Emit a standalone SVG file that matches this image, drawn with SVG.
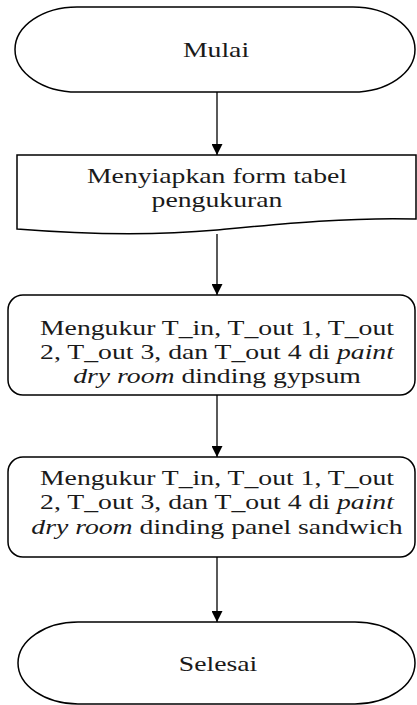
<svg xmlns="http://www.w3.org/2000/svg" width="417" height="705" viewBox="0 0 417 705">
  <style>
    .shape { fill: #ffffff; stroke: #000000; stroke-width: 1.5; }
    .link { fill: none; stroke: #000000; stroke-width: 1.3; }
    .it { font-style: italic; }
  </style>
  <defs>
    <marker id="arrow" markerUnits="userSpaceOnUse" markerWidth="11" markerHeight="11" viewBox="0 0 11 11" refX="11" refY="5.5" orient="auto">
      <path d="M0,0 L11,5.5 L0,11 Z" fill="#000000"/>
    </marker>
  </defs>

  <rect width="417" height="705" fill="#ffffff"/>

  <g id="connectors">
    <line class="link" x1="217" y1="92" x2="217" y2="155" marker-end="url(#arrow)"/>
    <line class="link" x1="217" y1="234" x2="217" y2="295" marker-end="url(#arrow)"/>
    <line class="link" x1="217" y1="395" x2="217" y2="457" marker-end="url(#arrow)"/>
    <line class="link" x1="217" y1="557" x2="217" y2="622" marker-end="url(#arrow)"/>
  </g>

  <g font-family="'Liberation Serif', 'DejaVu Serif', serif" font-size="21" fill="#1a1a1a" text-anchor="middle">
    <g id="start">
      <rect class="shape" x="15" y="7" width="400" height="85" rx="62" ry="42.5"/>
      <text transform="translate(216,57) scale(1.32,1)">Mulai</text>
    </g>

    <g id="prepare-form">
      <path class="shape" d="M17,155 L416,155 L416,219 C350,217 280,224 217,230 C150,236 80,234 17,229 Z"/>
      <text transform="translate(217,183) scale(1.32,1)">Menyiapkan form tabel</text>
      <text transform="translate(217,207) scale(1.32,1)">pengukuran</text>
    </g>

    <g id="measure-gypsum">
      <rect class="shape" x="8" y="295" width="407" height="100" rx="15" ry="15"/>
      <text transform="translate(217,335) scale(1.32,1)">Mengukur T_in, T_out 1, T_out</text>
      <text transform="translate(217,359) scale(1.32,1)">2, T_out 3, dan T_out 4 di <tspan class="it">paint</tspan></text>
      <text transform="translate(217,383) scale(1.32,1)"><tspan class="it">dry room</tspan> dinding gypsum</text>
    </g>

    <g id="measure-sandwich">
      <rect class="shape" x="8" y="457" width="407" height="100" rx="15" ry="15"/>
      <text transform="translate(217,485) scale(1.32,1)">Mengukur T_in, T_out 1, T_out</text>
      <text transform="translate(217,509) scale(1.32,1)">2, T_out 3, dan T_out 4 di <tspan class="it">paint</tspan></text>
      <text transform="translate(217,534) scale(1.32,1)"><tspan class="it">dry room</tspan> dinding panel sandwich</text>
    </g>

    <g id="end">
      <rect class="shape" x="18" y="622" width="397" height="82" rx="60" ry="41"/>
      <text transform="translate(218,671) scale(1.32,1)">Selesai</text>
    </g>
  </g>
</svg>
